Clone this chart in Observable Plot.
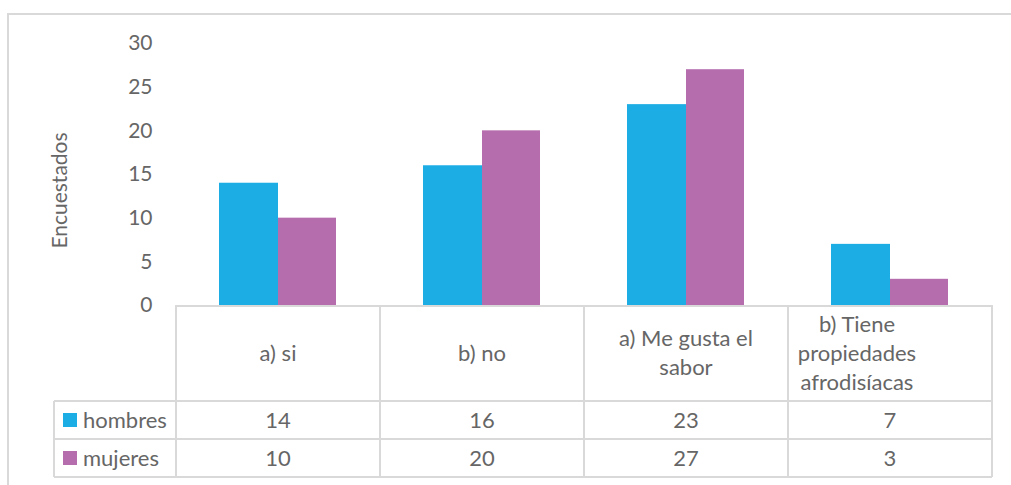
<!DOCTYPE html>
<html>
<head>
<meta charset="utf-8">
<script src="https://cdn.jsdelivr.net/npm/d3@7"></script>
<script src="https://cdn.jsdelivr.net/npm/@observablehq/plot@0.6"></script>
<style>
  html, body { margin: 0; padding: 0; background: #fff; }
  #wrap { position: relative; width: 1011px; height: 485px; overflow: hidden; }
  #frame { position: absolute; left: 7px; top: 13px; width: 1010px; height: 480px; border: 2px solid #d9d9d9; box-sizing: border-box; }
  #chart { position: absolute; left: 0; top: 0; }
</style>
</head>
<body>
<div id="wrap"><div id="frame"></div><div id="chart"></div></div>
<script>
const categories = ["a) si", "b) no", "a) Me gusta el sabor", "b) Tiene propiedades afrodisíacas"];
const categoryLines = [["a) si"], ["b) no"], ["a) Me gusta el", "sabor"], ["b) Tiene", "propiedades", "afrodisíacas"]];
const seriesNames = ["hombres", "mujeres"];
const hombres = [14, 16, 23, 7];
const mujeres = [10, 20, 27, 3];
const yTicks = [0, 5, 10, 15, 20, 25, 30];
const colors = ["#1CADE4", "#B66DAE"];

const rows = [];
categories.forEach((c, i) => {
  rows.push({category: c, series: "hombres", value: hombres[i]});
  rows.push({category: c, series: "mujeres", value: mujeres[i]});
});

const FONT = "Lato, 'Open Sans', sans-serif";
const TXT = "#666666";

const chart = Plot.plot({
  width: 1011,
  height: 485,
  marginTop: 43,
  marginBottom: 180,
  marginLeft: 175,
  marginRight: 18,
  style: {fontFamily: FONT, fontSize: "21px", color: TXT, background: "transparent"},
  x: {domain: categories, padding: 0, axis: null},
  y: {domain: [0, 30], ticks: yTicks},
  marks: [
    Plot.axisY({ticks: yTicks, tickSize: 0, tickPadding: 23, label: null, fontSize: 21, fill: TXT}),
    Plot.barY(rows.filter(d => d.series === "hombres"), {x: "category", y: "value", fill: colors[0], insetLeft: 43, insetRight: 102}),
    Plot.barY(rows.filter(d => d.series === "mujeres"), {x: "category", y: "value", fill: colors[1], insetLeft: 102, insetRight: 44}),
    Plot.text(["Encuestados"], {frameAnchor: "left", textAnchor: "middle", text: d => d, rotate: -90, dx: -115, dy: 16, fill: TXT, fontSize: 21})
  ]
});
document.getElementById("chart").appendChild(chart);

// Data table under the plot, positioned with Plot's own scales
const xs = chart.scale("x");
const ys = chart.scale("y");
const bw = xs.bandwidth;
const y0 = ys.apply(0);
const headerH = 96, rowH = 38, legendW = 122;
const left0 = xs.apply(categories[0]);
const right1 = xs.apply(categories[categories.length - 1]) + bw;
const svg = d3.select(chart);
const g = svg.append("g").attr("font-family", FONT).attr("font-size", 22).attr("fill", TXT);
const line = "#d9d9d9";
const lw = 2;
const rowTop = [y0 + headerH, y0 + headerH + rowH];
const bottom = y0 + headerH + 2 * rowH;

// horizontal lines
g.append("line").attr("x1", left0).attr("x2", right1).attr("y1", y0 + 1).attr("y2", y0 + 1).attr("stroke", line).attr("stroke-width", lw);
[rowTop[0], rowTop[1], bottom].forEach(yy => {
  g.append("line").attr("x1", left0 - legendW).attr("x2", right1).attr("y1", yy).attr("y2", yy).attr("stroke", line).attr("stroke-width", lw);
});
// vertical lines
g.append("line").attr("x1", left0 - legendW).attr("x2", left0 - legendW).attr("y1", rowTop[0]).attr("y2", bottom).attr("stroke", line).attr("stroke-width", lw);
categories.forEach((c, i) => {
  const xl = xs.apply(c);
  g.append("line").attr("x1", xl).attr("x2", xl).attr("y1", y0).attr("y2", bottom).attr("stroke", line).attr("stroke-width", lw);
});
g.append("line").attr("x1", right1).attr("x2", right1).attr("y1", y0).attr("y2", bottom).attr("stroke", line).attr("stroke-width", lw);

// header labels
const lh = 29;
categories.forEach((c, i) => {
  const lines = categoryLines[i];
  const cx = xs.apply(c) + bw / 2 + (lines.length === 3 ? -33 : 0);
  const cy = y0 + headerH / 2 - (lines.length - 1) * lh / 2;
  const t = g.append("text").attr("text-anchor", "middle");
  lines.forEach((l, k) => {
    t.append("tspan").attr("x", cx).attr("y", cy + k * lh).attr("dy", "0.35em").text(l);
  });
});

// series rows
const seriesVals = [hombres, mujeres];
seriesNames.forEach((s, r) => {
  const cy = rowTop[r] + rowH / 2;
  g.append("rect").attr("x", left0 - legendW + 9).attr("y", cy - 7).attr("width", 14).attr("height", 14).attr("fill", colors[r]);
  g.append("text").attr("x", left0 - legendW + 29).attr("y", cy).attr("dy", "0.35em").attr("text-anchor", "start").text(s);
  categories.forEach((c, i) => {
    g.append("text").attr("x", xs.apply(c) + bw / 2).attr("y", cy).attr("dy", "0.35em").attr("text-anchor", "middle").text(seriesVals[r][i]);
  });
});
</script>
</body>
</html>
